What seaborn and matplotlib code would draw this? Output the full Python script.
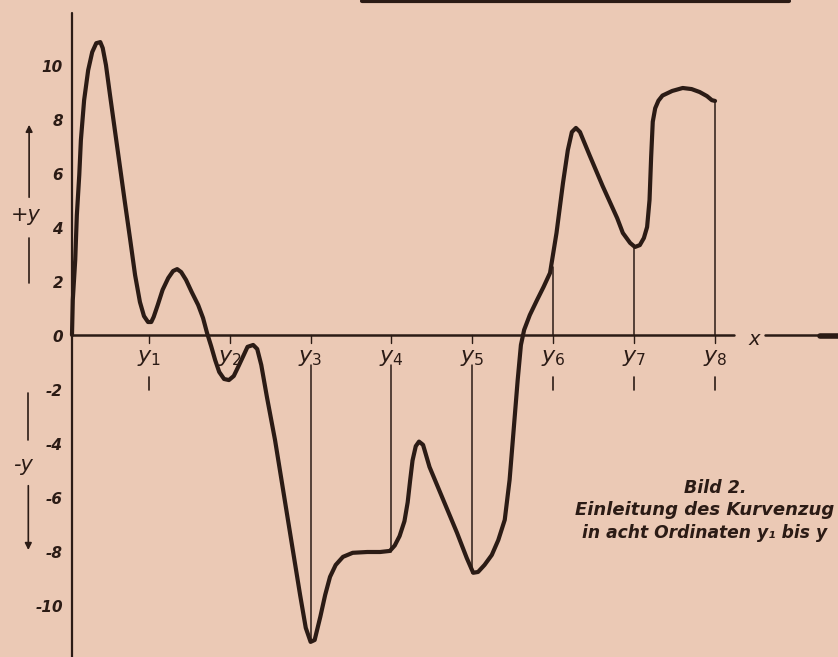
import matplotlib
matplotlib.use("Agg")
import matplotlib.pyplot as plt
import seaborn as sns
import numpy as np
import pandas as pd

sns.set_theme(style="white")
plt.rcParams['font.family'] = ['DejaVu Sans']

# ---- data ----
curve_x = [0.05, 0.06, 0.09, 0.11, 0.14, 0.16, 0.20, 0.25, 0.30, 0.35, 0.40, 0.43, 0.47, 0.52,
           0.58, 0.64, 0.70, 0.77, 0.83, 0.89, 0.94, 0.99, 1.03, 1.06, 1.11, 1.17, 1.24, 1.30,
           1.35, 1.40, 1.46, 1.53, 1.61, 1.67, 1.72, 1.77, 1.82, 1.87, 1.93, 1.99, 2.05, 2.11,
           2.18, 2.22, 2.29, 2.34, 2.39, 2.46, 2.56, 2.66, 2.77, 2.87, 2.94, 3.00, 3.05, 3.12,
           3.18, 3.24, 3.31, 3.40, 3.52, 3.70, 3.86, 3.98, 4.04, 4.10, 4.16, 4.20, 4.23, 4.26,
           4.30, 4.34, 4.39, 4.47, 4.64, 4.81, 4.93, 5.01, 5.07, 5.15, 5.24, 5.32, 5.40, 5.46,
           5.51, 5.56, 5.60, 5.64, 5.71, 5.80, 5.88, 5.96, 5.98, 6.04, 6.12, 6.18, 6.23, 6.28,
           6.33, 6.45, 6.61, 6.79, 6.86, 6.95, 7.01, 7.07, 7.12, 7.16, 7.19, 7.21, 7.23, 7.26,
           7.30, 7.35, 7.47, 7.60, 7.71, 7.81, 7.90, 7.96, 8.00]
curve_y = [0.0, 1.30, 2.78, 4.44, 5.93, 7.22, 8.70, 9.81, 10.48, 10.81, 10.85, 10.63, 10.00, 8.89,
           7.59, 6.30, 5.00, 3.52, 2.22, 1.22, 0.70, 0.48, 0.48, 0.67, 1.11, 1.67, 2.11, 2.37,
           2.44, 2.33, 2.04, 1.59, 1.11, 0.63, 0.07, -0.41, -0.93, -1.37, -1.63, -1.67, -1.52, -1.15,
           -0.70, -0.44, -0.37, -0.52, -1.11, -2.30, -3.89, -5.74, -7.78, -9.63, -10.85, -11.37, -11.30, -10.44,
           -9.63, -8.96, -8.52, -8.22, -8.07, -8.04, -8.04, -8.00, -7.80, -7.45, -6.90, -6.20, -5.40, -4.65,
           -4.12, -3.95, -4.07, -4.89, -6.11, -7.33, -8.26, -8.81, -8.78, -8.52, -8.15, -7.60, -6.85, -5.37,
           -3.52, -1.67, -0.37, 0.19, 0.74, 1.30, 1.78, 2.30, 2.67, 3.78, 5.63, 6.85, 7.52, 7.67,
           7.52, 6.65, 5.52, 4.33, 3.78, 3.41, 3.26, 3.33, 3.59, 4.00, 5.00, 6.60, 7.90, 8.40,
           8.68, 8.87, 9.04, 9.15, 9.11, 9.00, 8.85, 8.70, 8.67]

ordinate_x = [1.0, 2.0, 3.0, 4.0, 5.0, 6.0, 7.0, 8.0]
ordinate_names = ["1", "2", "3", "4", "5", "6", "7", "8"]
# vertical ordinate lines drawn (index, start, end)
ordinate_lines_idx = [2, 3, 4, 5, 6, 7]
ordinate_line_start = [-1.10, -1.10, -1.10, 0.0, 0.0, 0.0]
ordinate_line_end = [-11.37, -8.04, -8.81, 2.50, 3.26, 8.67]
short_mark_idx = [0, 5, 6, 7]

ytick_values = [10, 8, 6, 4, 2, 0, -2, -4, -6, -8, -10]
ytick_labels = ["10", "8", "6", "4", "2", "0", "-2", "-4", "-6", "-8", "-10"]

caption_lines = ["Bild 2.", "Einleitung des Kurvenzug", "in acht Ordinaten y\u2081 bis y"]

ink = "#2b1b15"
paper = "#ebc9b5"

fig = plt.figure(figsize=(8.38, 6.57), dpi=100)
fig.patch.set_facecolor(paper)
ax = fig.add_axes([0, 0, 1, 1])
ax.set_facecolor(paper)
ax.set_xlim(-0.84, 9.52)
ax.set_ylim(-11.93, 12.41)
ax.axis("off")

# axes
ax.plot([0.05, 0.05], [-11.93, 11.93], color=ink, lw=1.6)
ax.plot([0.05, 8.24], [0.0, 0.0], color=ink, lw=1.8)
ax.plot([8.62, 9.35], [0.0, 0.0], color=ink, lw=1.8)
ax.plot([9.30, 9.52], [-0.03, -0.03], color=ink, lw=4)
ax.text(8.49, -0.15, "x", fontsize=14, style="italic", color=ink, ha="center", va="center")

# top edge of box
ax.plot([3.63, 8.92], [12.36, 12.36], color=ink, lw=3)

# curve
df = pd.DataFrame({"x": curve_x, "y": curve_y})
sns.lineplot(data=df, x="x", y="y", sort=False, estimator=None, ax=ax,
             color=ink, lw=3.0, solid_joinstyle="round", solid_capstyle="round")

# ordinate lines
for i, s, e in zip(ordinate_lines_idx, ordinate_line_start, ordinate_line_end):
    ax.plot([ordinate_x[i], ordinate_x[i]], [s, e], color=ink, lw=1.1)

# small ticks on axis
for xv in ordinate_x:
    ax.plot([xv, xv], [0.0, -0.3], color=ink, lw=1.0)
# short marks below labels
for i in short_mark_idx:
    ax.plot([ordinate_x[i], ordinate_x[i]], [-1.55, -2.05], color=ink, lw=1.2)

# ordinate labels
for xv, name in zip(ordinate_x, ordinate_names):
    ax.text(xv, -0.85, r"$y_{%s}$" % name, fontsize=16, color=ink, ha="center", va="center")

# y tick labels
for v, lab in zip(ytick_values, ytick_labels):
    ax.text(-0.06, v - 0.08, lab, fontsize=11, style="italic", fontweight="bold",
            color=ink, ha="right", va="center")

# +y / -y markers with arrows
ax.annotate("", xy=(-0.48, 7.89), xytext=(-0.48, 5.0),
            arrowprops=dict(arrowstyle="-|>", color=ink, lw=1.2, mutation_scale=10))
ax.plot([-0.48, -0.48], [3.59, 1.93], color=ink, lw=1.2)
ax.text(-0.52, 4.44, "+y", fontsize=15, style="italic", color=ink, ha="center", va="center")
ax.plot([-0.49, -0.49], [-2.15, -3.89], color=ink, lw=1.2)
ax.annotate("", xy=(-0.49, -8.07), xytext=(-0.49, -5.48),
            arrowprops=dict(arrowstyle="-|>", color=ink, lw=1.2, mutation_scale=10))
ax.text(-0.55, -4.81, "-y", fontsize=15, style="italic", color=ink, ha="center", va="center")

# caption
fig.text(715 / 838, 1 - 488 / 657, caption_lines[0], fontsize=12.5, fontweight="bold",
         style="italic", color=ink, ha="center", va="center")
fig.text(575 / 838, 1 - 510 / 657, caption_lines[1], fontsize=13, fontweight="bold",
         style="italic", color=ink, ha="left", va="center")
fig.text(582 / 838, 1 - 533 / 657, caption_lines[2], fontsize=12.3, fontweight="bold",
         style="italic", color=ink, ha="left", va="center")

fig.savefig("out.png", dpi=100, facecolor=paper)
